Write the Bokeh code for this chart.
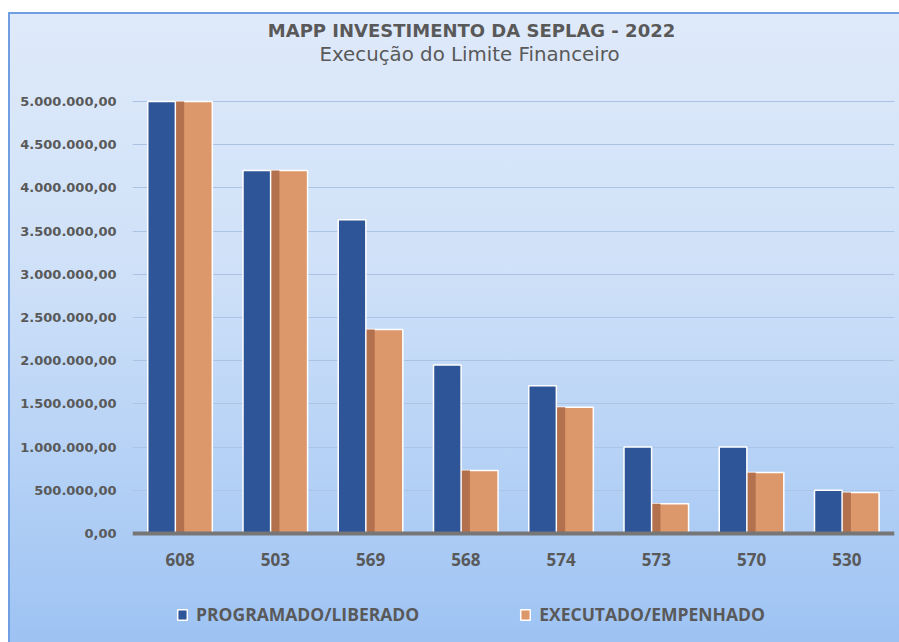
from bokeh.plotting import figure
from bokeh.models import FactorRange, Range1d, ColumnDataSource, Label, Legend, LegendItem, FixedTicker
from bokeh.transform import dodge
from bokeh.embed import file_html
from bokeh.resources import INLINE

categories = ["608", "503", "569", "568", "574", "573", "570", "530"]
programado = [5000000, 4200000, 3630000, 1950000, 1710000, 1000000, 1000000, 500000]
executado = [5000000, 4200000, 2360000, 730000, 1460000, 345000, 705000, 475000]
y_ticks = [0, 500000, 1000000, 1500000, 2000000, 2500000, 3000000, 3500000, 4000000, 4500000, 5000000]
y_tick_labels = ["0,00", "500.000,00", "1.000.000,00", "1.500.000,00", "2.000.000,00", "2.500.000,00",
                 "3.000.000,00", "3.500.000,00", "4.000.000,00", "4.500.000,00", "5.000.000,00"]
title_text = "MAPP INVESTIMENTO DA SEPLAG - 2022"
subtitle_text = "Execução do Limite Financeiro"
series_names = ["PROGRAMADO/LIBERADO", "EXECUTADO/EMPENHADO"]

FONT = "Open Sans"
GRAY = "#595959"

src = ColumnDataSource(dict(cat=categories, prog=programado, exe=executado))

W, H = 899, 642
LEFT, RIGHT = 132, 5
TOP_Y = 101   # page y of the top tick value
ZERO_Y = 533  # page y of value 0
y_max_tick = y_ticks[-1]
px_per_unit = (ZERO_Y - TOP_Y) / y_max_tick
y_start = -(H - ZERO_Y) / px_per_unit
y_end = y_max_tick + TOP_Y / px_per_unit

p = figure(width=W, height=H, x_range=FactorRange(factors=categories), y_range=Range1d(y_start, y_end),
           output_backend="svg", toolbar_location=None,
           min_border_left=LEFT, min_border_right=RIGHT, min_border_top=0, min_border_bottom=0)
p.background_fill_alpha = 0
p.border_fill_alpha = 0
p.outline_line_color = None
p.styles = {
    "background-image": "linear-gradient(#6f9fe2,#6f9fe2), linear-gradient(#6f9fe2,#6f9fe2), "
                        "linear-gradient(to bottom, #dfeafa 0%, #cfe1f8 40%, #9cc2f3 100%)",
    "background-position": "8px 12px, 8px 12px, 8px 12px",
    "background-size": "100% 2px, 2px 100%, 100% 100%",
    "background-repeat": "no-repeat",
}

r1 = p.vbar(x=dodge("cat", -0.195, range=p.x_range), top="prog", bottom=0, width=0.29, source=src,
            fill_color="#2e5597", line_color="white", line_width=1.5)
r2 = p.vbar(x=dodge("cat", 0.148, range=p.x_range), top="exe", bottom=0, width=0.38, source=src,
            fill_color="#dc976b", line_color="white", line_width=1.5)
p.vbar(x=dodge("cat", 0.0, range=p.x_range), top="exe", bottom=0, width=0.085, source=src,
       fill_color="#b4714e", line_color=None)

p.xgrid.grid_line_color = None
p.ygrid.grid_line_color = "#abc4e6"
p.ygrid.grid_line_width = 1

p.yaxis.ticker = FixedTicker(ticks=y_ticks)
p.yaxis.major_label_overrides = {t: l for t, l in zip(y_ticks, y_tick_labels)}
p.yaxis.axis_line_color = None
p.yaxis.major_tick_line_color = None
p.yaxis.minor_tick_line_color = None
p.yaxis.major_label_text_font = "DejaVu Sans"
p.yaxis.major_label_text_font_style = "bold"
p.yaxis.major_label_text_font_size = "13px"
p.yaxis.major_label_text_color = GRAY
p.yaxis.major_label_standoff = 10

p.xaxis.fixed_location = 0
p.xaxis.axis_line_color = "#767676"
p.xaxis.axis_line_width = 4
p.xaxis.major_tick_line_color = None
p.xaxis.minor_tick_line_color = None
p.xaxis.major_label_text_font = FONT
p.xaxis.major_label_text_font_style = "bold"
p.xaxis.major_label_text_font_size = "17px"
p.xaxis.major_label_text_color = GRAY
p.xaxis.major_label_standoff = 13

p.add_layout(Label(x=471 - LEFT, y=H - 30, x_units="screen", y_units="screen", text=title_text,
                   text_align="center", text_baseline="middle", text_font="DejaVu Sans",
                   text_font_size="18px", text_font_style="bold", text_color=GRAY))
p.add_layout(Label(x=469 - LEFT, y=H - 54, x_units="screen", y_units="screen", text=subtitle_text,
                   text_align="center", text_baseline="middle", text_font="DejaVu Sans",
                   text_font_size="19.8px", text_color=GRAY))

legend = Legend(items=[LegendItem(label=series_names[0], renderers=[r1]),
                       LegendItem(label=series_names[1], renderers=[r2])],
                orientation="horizontal", location=(44, 16), padding=0, margin=0,
                spacing=100, label_standoff=8, glyph_width=12, glyph_height=13,
                background_fill_alpha=0, border_line_color=None,
                label_text_font=FONT, label_text_font_style="bold", label_text_font_size="17.5px",
                label_text_color=GRAY)
p.add_layout(legend, "center")

open("out.html", "w").write(file_html(p, INLINE))
